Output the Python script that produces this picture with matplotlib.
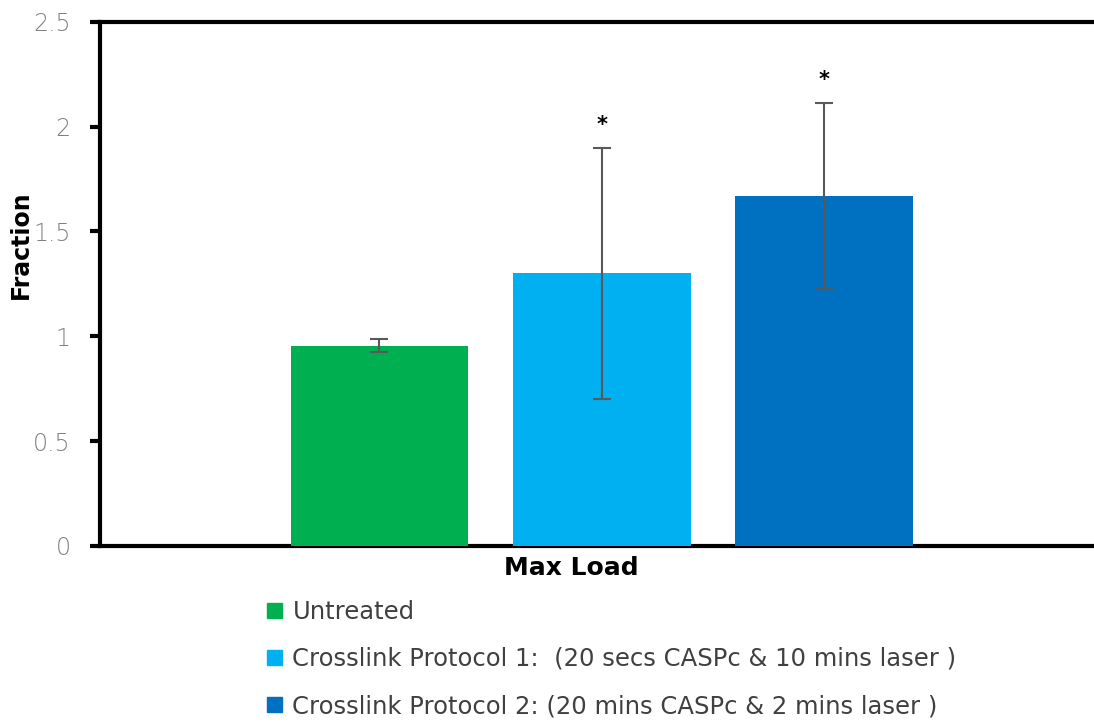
import matplotlib.pyplot as plt
from matplotlib.patches import Patch

# Max load fraction per treatment group
groups = ['Untreated',
          'Crosslink Protocol 1:  (20 secs CASPc & 10 mins laser )',
          'Crosslink Protocol 2: (20 mins CASPc & 2 mins laser )']
means = [0.955, 1.30, 1.67]
errors = [0.03, 0.60, 0.445]
significant = [False, True, True]
colors = ['#00B050', '#00B0F0', '#0070C0']
yticks = [0, 0.5, 1, 1.5, 2, 2.5]
ytick_labels = ['0', '0.5', '1', '1.5', '2', '2.5']

plt.rcParams['font.family'] = ['DejaVu Sans']

fig = plt.figure(figsize=(10.94, 7.27), dpi=100)
ax = fig.add_axes([0.0914, 0.249, 0.91, 0.721])

x = list(range(len(groups)))
ax.bar(x, means, width=0.8, color=colors, zorder=3)
ax.errorbar(x, means, yerr=errors, fmt='none', ecolor='#595959',
            elinewidth=1.5, capsize=6.5, capthick=1.5, zorder=4)

for xi, m, e, sig in zip(x, means, errors, significant):
    if sig:
        ax.annotate('*', (xi, m + e), xytext=(0, 9), textcoords='offset points',
                    ha='center', va='bottom', fontsize=15, fontweight='bold')

ax.set_xlim(-1.257, 3.221)
ax.set_ylim(0, 2.5)
ax.set_yticks(yticks)
ax.set_yticklabels(ytick_labels)
ax.set_xticks([])

for side in ['left', 'bottom', 'top']:
    ax.spines[side].set_linewidth(3)
    ax.spines[side].set_zorder(2)
ax.spines['right'].set_visible(False)

ax.tick_params(axis='y', length=7, width=3, pad=14, labelsize=17,
               labelcolor='#808080')
for lbl in ax.get_yticklabels():
    lbl.set_fontweight('light')

ax.set_ylabel('Fraction', fontsize=17, fontweight='bold')
ax.yaxis.set_label_coords(-0.067, 0.574)
ax.text(0.473, -0.02, 'Max Load', transform=ax.transAxes, ha='center',
        va='top', fontsize=18, fontweight='bold')

handles = [Patch(color=c) for c in colors]
fig.legend(handles, groups, loc='upper left', bbox_to_anchor=(0.224, 0.205),
           frameon=False, fontsize=17.5, handlelength=0.6, handleheight=0.6,
           handletextpad=0.45, labelspacing=0.95, labelcolor='#404040')

fig.savefig('out.png', dpi=100)
